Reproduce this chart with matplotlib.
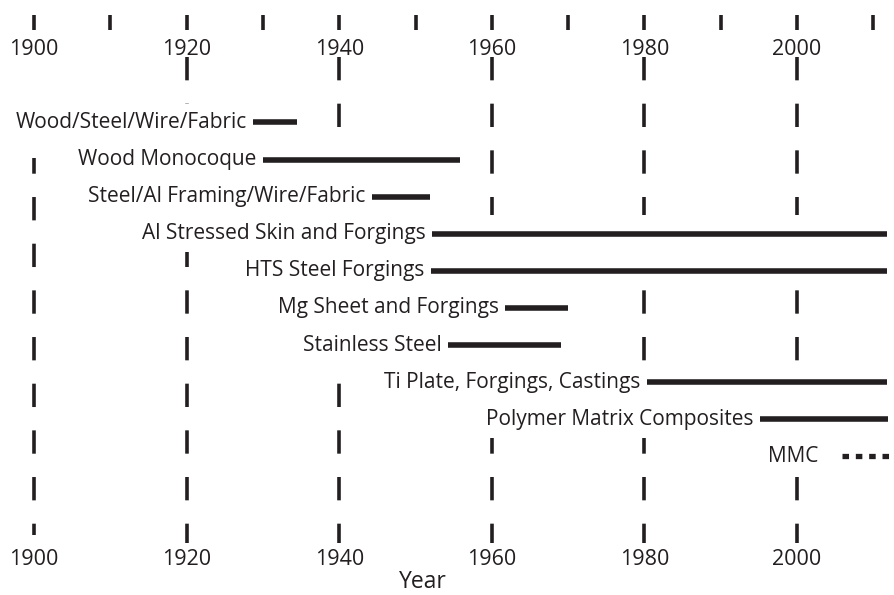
import numpy as np
import matplotlib.pyplot as plt

plt.rcParams['font.family'] = ['Open Sans', 'DejaVu Sans']
plt.rcParams['lines.scale_dashes'] = False

# ==============================================================
# data: material eras (years)
materials = ['Wood/Steel/Wire/Fabric', 'Wood Monocoque', 'Steel/Al Framing/Wire/Fabric',
             'Al Stressed Skin and Forgings', 'HTS Steel Forgings', 'Mg Sheet and Forgings',
             'Stainless Steel', 'Ti Plate, Forgings, Castings', 'Polymer Matrix Composites']
start_year = [1928.7, 1930.0, 1944.3, 1952.2, 1952.0, 1961.7, 1954.3, 1980.3, 1995.1]
end_year = [1934.5, 1955.8, 1951.9, 2011.8, 2011.8, 1970.0, 1969.1, 2011.8, 2011.9]

# emerging material, drawn dotted
mmc_label = 'MMC'
mmc_start = 2005.9
mmc_end = 2014.0

grid_years = [1900, 1920, 1940, 1960, 1980, 2000]
tick_years = [1900, 1910, 1920, 1930, 1940, 1950, 1960, 1970, 1980, 1990, 2000, 2010]

# ==============================================================
ink = '#231f20'
H = 595.0


def frac(py):
    """pixel row (from top) -> axes fraction"""
    return 1 - py / H


fig = plt.figure(figsize=(8.94, 5.95), dpi=100)
ax = fig.add_axes([0, 0, 1, 1])
ax.set_xlim(1895.54, 2012.71)
ax.set_ylim(12.74, -3.30)
ax.axis('off')
trans = ax.get_xaxis_transform()

# short ticks along the top
ax.vlines(tick_years, frac(30), frac(15), transform=trans, color=ink, lw=2.6)

# dashed decade lines
for yr in grid_years:
    if yr == 1900:
        ax.plot([yr, yr], [frac(158), frac(535)], transform=trans, color=ink,
                lw=2.6, ls=(5.5, (16.8, 16.8)), zorder=1, dash_capstyle='butt')
    else:
        ax.plot([yr, yr], [frac(57), frac(543)], transform=trans, color=ink,
                lw=2.6, ls=(0, (16.8, 16.8)), zorder=1, dash_capstyle='butt')
    ax.text(yr, frac(55), str(yr), transform=trans, ha='center', va='baseline',
            fontsize=15.5, color=ink)
    ax.text(yr, frac(565), str(yr), transform=trans, ha='center', va='baseline',
            fontsize=15.5, color=ink)

ax.text(1951, frac(588), 'Year', transform=trans, ha='center', va='baseline',
        fontsize=16.5, color=ink)

# bars
rows = np.arange(len(materials))
ax.hlines(rows, start_year, end_year, color=ink, lw=4, zorder=3)

labels = []
for i, (name, x0) in enumerate(zip(materials, start_year)):
    t = ax.annotate(name, xy=(x0, i), xytext=(-4.5, -4), textcoords='offset points',
                    ha='right', va='baseline', fontsize=15, color=ink, zorder=3)
    labels.append(t)

# MMC row
r = len(materials)
ax.hlines(r, mmc_start, mmc_end, color=ink, lw=3.8, ls=(0, (4.7, 4.9)), zorder=3)
t = ax.annotate(mmc_label, xy=(mmc_start, r), xytext=(-17, -4), textcoords='offset points',
                ha='right', va='baseline', fontsize=15, color=ink, zorder=3)
labels.append(t)

# white band behind each row (label + bar) so the decade lines break there
fig.canvas.draw()
inv = ax.transData.inverted()
row_ends = list(end_year) + [mmc_end]
for i, (t, x1) in enumerate(zip(labels, row_ends)):
    bb = t.get_window_extent()
    x0 = inv.transform((bb.x0 - 3, 0))[0]
    ax.barh(i, x1 - x0, left=x0, height=1.0, color='white', zorder=2)

fig.savefig('out.png', dpi=100)
